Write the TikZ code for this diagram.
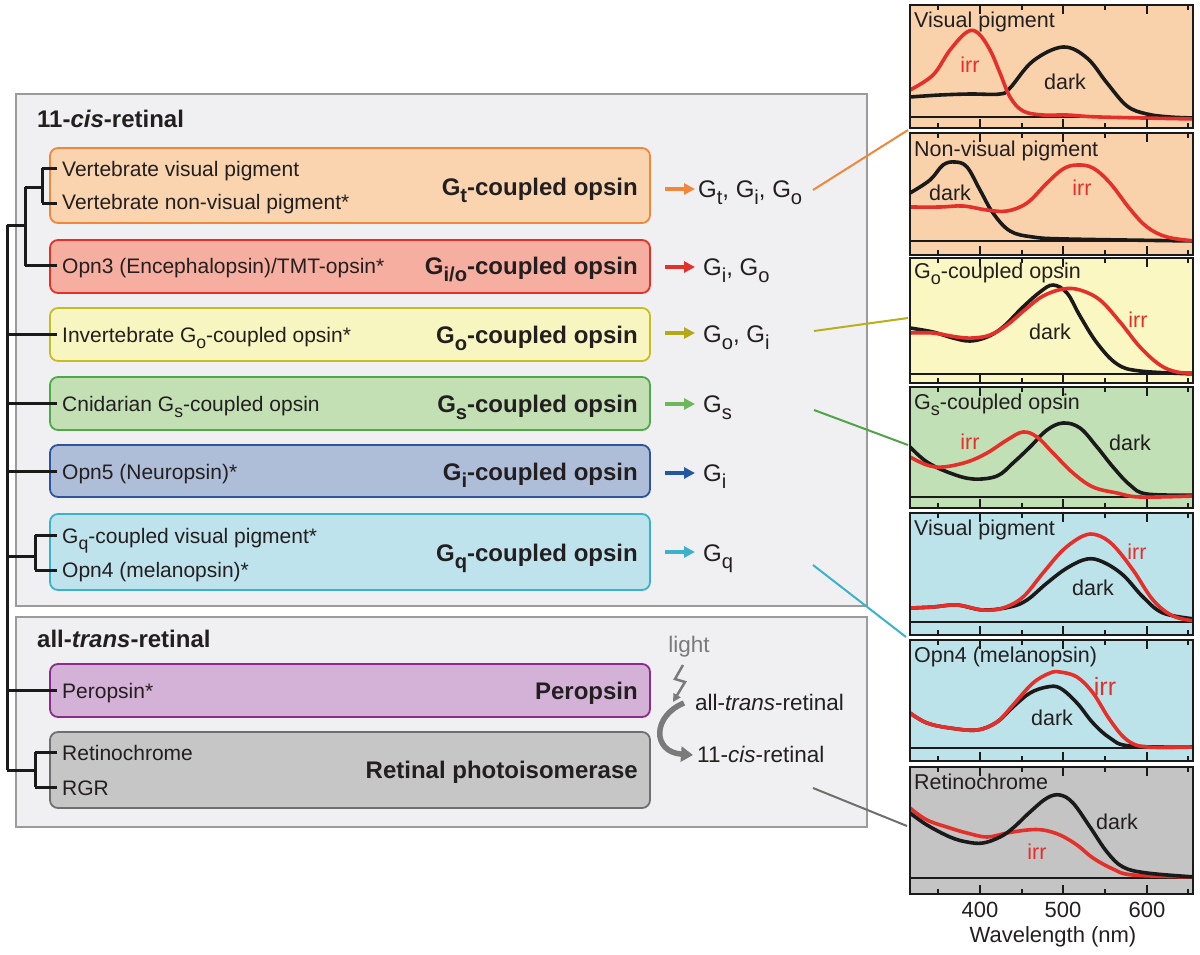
\documentclass[tikz,border=0pt]{standalone}
\usepackage{fontspec}
\setmainfont{Liberation Sans}
\usetikzlibrary{arrows.meta}
\newcommand\lsub[1]{\raisebox{-0.3em}{\scalebox{0.84}{#1}}}
\definecolor{txt}{HTML}{231F20}
\definecolor{outerfill}{HTML}{F0F0F2}
\definecolor{outerline}{HTML}{9B9B9B}
\definecolor{oFill}{HTML}{F9D4AF}\definecolor{oLine}{HTML}{F0873A}
\definecolor{rFill}{HTML}{F5AE9F}\definecolor{rLine}{HTML}{E5302A}
\definecolor{yFill}{HTML}{F8F6C0}\definecolor{yLine}{HTML}{C9BC22}
\definecolor{gFill}{HTML}{C3E0B5}\definecolor{gLine}{HTML}{4FA84A}
\definecolor{bFill}{HTML}{AFBED8}\definecolor{bLine}{HTML}{2C559E}
\definecolor{cFill}{HTML}{BEE3EC}\definecolor{cLine}{HTML}{3BB2CB}
\definecolor{pFill}{HTML}{D4B1D6}\definecolor{pLine}{HTML}{8B2C8A}
\definecolor{kFill}{HTML}{C6C6C6}\definecolor{kLine}{HTML}{6F6F6F}
\definecolor{aOlive}{HTML}{B5A815}\definecolor{aGreen}{HTML}{6CB75B}
\definecolor{aBlue}{HTML}{2457A2}
\definecolor{cOlive}{HTML}{B9AE1C}\definecolor{cGreen}{HTML}{4EA548}
\definecolor{ppO}{HTML}{F9D2AC}\definecolor{ppY}{HTML}{FAF7C3}
\definecolor{ppG}{HTML}{C2E0B6}\definecolor{ppC}{HTML}{BDE3EA}
\definecolor{ppK}{HTML}{C4C4C4}
\definecolor{cRed}{HTML}{E42F2A}\definecolor{cBlack}{HTML}{1A1A1A}
\definecolor{lightgray}{HTML}{7A7A7A}
\tikzset{
  reg/.style={font=\fontsize{21}{25}\selectfont, inner sep=0pt, anchor=base west, text=txt},
  side/.style={font=\fontsize{24}{28}\selectfont, inner sep=0pt, anchor=base west, text=txt},
  blab/.style={font=\fontsize{24}{28}\selectfont\bfseries, inner sep=0pt, anchor=base east, text=txt},
  ttl/.style={font=\fontsize{24}{28}\selectfont\bfseries, inner sep=0pt, anchor=base west, text=txt},
  ptitle/.style={font=\fontsize{21.5}{25}\selectfont, inner sep=0pt, anchor=base west, text=txt},
  clab/.style={font=\fontsize{21.5}{25}\selectfont, inner sep=0pt, text=txt},
  rlab/.style={font=\fontsize{21.5}{25}\selectfont, inner sep=0pt, text=cRed},
  obox/.style={rectangle, rounded corners=8pt, line width=1.8pt, inner sep=0pt, minimum width=600pt},
  outer/.style={rectangle, draw=outerline, fill=outerfill, line width=2pt, minimum width=851pt, inner sep=0pt},
  tree/.style={line width=3pt, draw=cBlack},
  sarrow/.style={line width=3.5pt, -{Triangle[length=11pt,width=11pt]}},
  link/.style={line width=2pt},
  curve/.style={line width=3.6pt, line join=round, line cap=round},
  pbox/.style={rectangle, inner sep=0pt, minimum width=283pt},
  pframe/.style={line width=2.5pt, draw=cBlack},
  ticklab/.style={font=\fontsize{22}{26}\selectfont, inner sep=0pt, text=txt},
}
\begin{document}
\begin{tikzpicture}[x=1pt, y=-1pt]
\useasboundingbox (0,0) rectangle (1200,954);
\fill[white] (0,0) rectangle (1200,954);

% ---------- outer boxes ----------
\node[outer, minimum height=512pt] (cisbox) at (441.5,350) {};
\node[outer, minimum height=210pt] (transbox) at (441.5,722) {};
\node[ttl] (tcis) at (37,127) {11-\textit{cis}-retinal};
\node[ttl] (ttrans) at (37,647) {all-\textit{trans}-retinal};

% ---------- coloured boxes ----------
\node[obox, fill=oFill, draw=oLine, minimum height=75pt] (bGt) at (350,185.5) {};
\node[obox, fill=rFill, draw=rLine, minimum height=53pt] (bGio) at (350,266.5) {};
\node[obox, fill=yFill, draw=yLine, minimum height=53pt] (bGo) at (350,334.5) {};
\node[obox, fill=gFill, draw=gLine, minimum height=53pt] (bGs) at (350,403.5) {};
\node[obox, fill=bFill, draw=bLine, minimum height=52pt] (bGi) at (350,471) {};
\node[obox, fill=cFill, draw=cLine, minimum height=76pt] (bGq) at (350,552) {};
\node[obox, fill=pFill, draw=pLine, minimum height=53pt] (bPer) at (350,690.5) {};
\node[obox, fill=kFill, draw=kLine, minimum height=76pt] (bRet) at (350,770) {};

% texts in boxes
\node[reg] (tVV) at (62,176) {Vertebrate visual pigment};
\node[reg] (tVN) at (62,209) {Vertebrate non-visual pigment*};
\node[blab] (lGt) at (638,195) {G\lsub{t}-coupled opsin};
\node[reg] (tOpn3) at (62,273) {Opn3 (Encephalopsin)/TMT-opsin*};
\node[blab] (lGio) at (638,274) {G\lsub{i/o}-coupled opsin};
\node[reg] (tInv) at (62,342) {Invertebrate G\lsub{o}-coupled opsin*};
\node[blab] (lGo) at (638,343) {G\lsub{o}-coupled opsin};
\node[reg] (tCni) at (62,411) {Cnidarian G\lsub{s}-coupled opsin};
\node[blab] (lGs) at (638,412) {G\lsub{s}-coupled opsin};
\node[reg] (tOpn5) at (62,479) {Opn5 (Neuropsin)*};
\node[blab] (lGi) at (638,480) {G\lsub{i}-coupled opsin};
\node[reg] (tGqv) at (62,543) {G\lsub{q}-coupled visual pigment*};
\node[reg] (tOpn4) at (62,577) {Opn4 (melanopsin)*};
\node[blab] (lGq) at (638,561) {G\lsub{q}-coupled opsin};
\node[reg] (tPer) at (62,698) {Peropsin*};
\node[blab] (lPer) at (638,699) {Peropsin};
\node[reg] (tRch) at (62,760) {Retinochrome};
\node[reg] (tRGR) at (62,795) {RGR};
\node[blab] (lRet) at (638,778) {Retinal photoisomerase};

% ---------- tree ----------
\coordinate (root1) at (7,225);
\coordinate (root2) at (7,770);
\coordinate (jA) at (25,225);
\coordinate (jB) at (42,187);
\coordinate (jC) at (35,556);
\coordinate (jD) at (35,770);
\draw[tree] (root1) -- (root2);
\draw[tree] (root1) -- (jA);
\draw[tree] (25,187) -- (25,265.5);
\draw[tree] (25,187) -- (jB);
\draw[tree] (42,168) -- (42,203);
\draw[tree] (42,168) -- (57,168);
\draw[tree] (42,203) -- (57,203);
\draw[tree] (25,265) -- (57,265);
\draw[tree] (7,334.5) -- (57,334.5);
\draw[tree] (7,403.5) -- (57,403.5);
\draw[tree] (7,471) -- (57,471);
\draw[tree] (7,556) -- (jC);
\draw[tree] (35,535) -- (35,570);
\draw[tree] (35,535) -- (57,535);
\draw[tree] (35,570) -- (57,570);
\draw[tree] (7,690.5) -- (57,690.5);
\draw[tree] (root2) -- (jD);
\draw[tree] (35,752) -- (35,787);
\draw[tree] (35,752) -- (57,752);
\draw[tree] (35,787) -- (57,787);

% ---------- G protein arrows and labels ----------
\node[side] (sGt) at (698,197) {G\lsub{t}, G\lsub{i}, G\lsub{o}};
\node[side] (sGio) at (703,275) {G\lsub{i}, G\lsub{o}};
\node[side] (sGo) at (703,342) {G\lsub{o}, G\lsub{i}};
\node[side] (sGs) at (703,412) {G\lsub{s}};
\node[side] (sGi) at (703,481) {G\lsub{i}};
\node[side] (sGq) at (703,561) {G\lsub{q}};
\draw[sarrow, oLine] (665,189) -- (695,189);
\draw[sarrow, rLine] (665,267) -- (695,267);
\draw[sarrow, aOlive] (665,333) -- (695,333);
\draw[sarrow, aGreen] (665,404) -- (695,404);
\draw[sarrow, aBlue] (665,473) -- (695,473);
\draw[sarrow, cLine] (665,552) -- (695,552);

% ---------- light / isomerisation ----------
\node[font=\fontsize{22.5}{26}\selectfont, text=lightgray, inner sep=0pt] (light) at (689,647) {light};
\draw[line width=2.5pt, lightgray, line join=miter, -{Triangle[length=8pt,width=8pt]}]
  (683,665) -- (675,679) -- (685,682) -- (673,702);
\node[font=\fontsize{22.5}{27}\selectfont, inner sep=0pt, anchor=base west, text=txt] (atr) at (695,710) {all-\textit{trans}-retinal};
\node[font=\fontsize{22.5}{27}\selectfont, inner sep=0pt, anchor=base west, text=txt] (cisr) at (697,762) {11-\textit{cis}-retinal};
\draw[line width=5.5pt, lightgray, -{Triangle[length=12pt,width=15pt]}]
  (684,703) .. controls (652,716) and (652,752) .. (693,755);

% ---------- spectra panels ----------
\node[pbox, fill=ppO, minimum height=123pt] (p1) at (1051.5,66.5) {};
\node[pbox, fill=ppO, minimum height=122pt] (p2) at (1051.5,194) {};
\node[pbox, fill=ppY, minimum height=125pt] (p3) at (1051.5,320.5) {};
\node[pbox, fill=ppG, minimum height=121pt] (p4) at (1051.5,447.5) {};
\node[pbox, fill=ppC, minimum height=122pt] (p5) at (1051.5,574) {};
\node[pbox, fill=ppC, minimum height=121pt] (p6) at (1051.5,700.5) {};
\node[pbox, fill=ppK, minimum height=127pt] (p7) at (1051.5,830.5) {};

\foreach \bl in {117,241,374,497,622,748,878}
  \draw[line width=1.6pt, cBlack] (910,\bl) -- (1193,\bl);

\begin{scope}
\clip (910,0) rectangle (1193,900);
% panel 1
\draw[curve, cBlack] plot[smooth, tension=0.6] coordinates {(910,97) (940,95) (970,94) (1000,94) (1010,88) (1033,61) (1063,47) (1087,58) (1107,83) (1127,106) (1147,114) (1170,117) (1195,118)};
\draw[curve, cRed] plot[smooth, tension=0.6] coordinates {(910,90) (933,75) (950,50) (967,32) (978,33) (990,50) (1000,73) (1010,97) (1023,111) (1043,115) (1067,115) (1100,117) (1195,119)};
% panel 2
\draw[curve, cBlack] plot[smooth, tension=0.6] coordinates {(910,193) (930,180) (943,165) (955,162) (967,167) (980,190) (993,213) (1010,231) (1033,237) (1067,239) (1195,241)};
\draw[curve, cRed] plot[smooth, tension=0.6] coordinates {(910,207) (940,207) (963,206) (987,210) (1007,211) (1027,203) (1047,183) (1063,169) (1077,165) (1093,168) (1110,183) (1130,209) (1147,227) (1167,237) (1195,241)};
% panel 3
\draw[curve, cBlack] plot[smooth, tension=0.6] coordinates {(910,328) (933,332) (953,338) (970,341) (987,337) (1003,327) (1023,307) (1040,292) (1053,285) (1067,293) (1080,316) (1097,343) (1117,364) (1140,371) (1195,374)};
\draw[curve, cRed] plot[smooth, tension=0.6] coordinates {(910,333) (933,333) (957,337) (973,338) (990,335) (1007,325) (1027,308) (1043,296) (1063,289) (1080,290) (1100,300) (1120,322) (1140,347) (1160,365) (1177,372) (1195,373)};
% panel 4
\draw[curve, cBlack] plot[smooth, tension=0.6] coordinates {(910,447) (927,462) (950,473) (973,479) (997,476) (1013,463) (1030,447) (1047,430) (1063,423) (1080,428) (1097,447) (1113,467) (1130,485) (1147,494) (1195,495)};
\draw[curve, cRed] plot[smooth, tension=0.6] coordinates {(910,457) (927,465) (943,467) (967,462) (987,453) (1007,440) (1023,432) (1037,437) (1053,453) (1073,473) (1093,487) (1117,493) (1140,497) (1195,496)};
% panel 5
\draw[curve, cBlack] plot[smooth, tension=0.6] coordinates {(910,608) (933,607) (957,605) (983,610) (1010,607) (1027,600) (1047,583) (1067,568) (1087,559) (1103,562) (1123,575) (1143,597) (1163,613) (1195,619)};
\draw[curve, cRed] plot[smooth, tension=0.6] coordinates {(910,608) (933,607) (957,605) (983,610) (1003,608) (1023,597) (1043,573) (1063,550) (1083,536) (1097,535) (1113,545) (1133,570) (1153,600) (1173,616) (1195,621)};
% panel 6
\draw[curve, cBlack] plot[smooth, tension=0.6] coordinates {(910,713) (927,723) (950,728) (977,730) (997,722) (1013,707) (1030,693) (1047,687) (1060,688) (1077,703) (1093,723) (1110,738) (1130,746) (1195,747)};
\draw[curve, cRed] plot[smooth, tension=0.6] coordinates {(910,713) (927,723) (950,728) (977,730) (997,722) (1013,705) (1033,683) (1050,673) (1060,672) (1077,677) (1093,693) (1110,720) (1127,740) (1147,747) (1195,747)};
% panel 7
\draw[curve, cRed] plot[smooth, tension=0.6] coordinates {(910,808) (927,820) (950,828) (967,833) (987,837) (1007,833) (1027,830) (1043,830) (1060,835) (1077,845) (1093,858) (1113,869) (1133,875) (1195,877)};
\draw[curve, cBlack] plot[smooth, tension=0.6] coordinates {(910,813) (927,825) (950,837) (967,842) (983,843) (1000,837) (1013,828) (1030,812) (1047,798) (1060,795) (1073,803) (1090,827) (1107,852) (1123,867) (1147,873) (1195,877)};
\end{scope}

% frames and ticks
\foreach \p in {p1,p2,p3,p4,p5,p6,p7} {
  \draw[pframe] (\p.north west) rectangle (\p.south east);
  \foreach \x in {938,1022,1105,1188} {
    \draw[line width=2pt, cBlack] (\p.north west -| \x,0) -- ++(0,5);
    \draw[line width=2pt, cBlack] (\p.south west -| \x,0) -- ++(0,-5);
  }
  \foreach \x in {980,1063,1147} {
    \draw[line width=2pt, cBlack] (\p.north west -| \x,0) -- ++(0,9);
    \draw[line width=2pt, cBlack] (\p.south west -| \x,0) -- ++(0,-9);
  }
}

% panel titles
\node[ptitle] (pt1) at (914,27) {Visual pigment};
\node[ptitle] (pt2) at (914,156) {Non-visual pigment};
\node[ptitle] (pt3) at (914,278) {G\lsub{o}-coupled opsin};
\node[ptitle] (pt4) at (914,409) {G\lsub{s}-coupled opsin};
\node[ptitle] (pt5) at (914,535) {Visual pigment};
\node[ptitle] (pt6) at (914,662) {Opn4 (melanopsin)};
\node[ptitle] (pt7) at (914,789) {Retinochrome};

% curve labels
\node[rlab] (i1) at (970,65) {irr};
\node[clab] (d1) at (1065,82) {dark};
\node[clab] (d2) at (950,193) {dark};
\node[rlab] (i2) at (1082,188) {irr};
\node[clab] (d3) at (1050,332) {dark};
\node[rlab] (i3) at (1138,320) {irr};
\node[rlab] (i4) at (970,442) {irr};
\node[clab] (d4) at (1130,443) {dark};
\node[rlab] (i5) at (1137,552) {irr};
\node[clab] (d5) at (1093,588) {dark};
\node[rlab, font=\fontsize{25}{29}\selectfont] (i6) at (1105,686) {irr};
\node[clab] (d6) at (1052,718) {dark};
\node[clab] (d7) at (1117,822) {dark};
\node[rlab] (i7) at (1037,852) {irr};

% axis
\node[ticklab] (x400) at (980,910) {400};
\node[ticklab] (x500) at (1063,910) {500};
\node[ticklab] (x600) at (1147,910) {600};
\node[ticklab] (xlab) at (1053,937) {Wavelength (nm)};

% ---------- links from boxes to spectra ----------
\coordinate (kO1) at (813,190); \coordinate (kO2) at (908,130);
\coordinate (kY1) at (814,331); \coordinate (kY2) at (908,318);
\coordinate (kG1) at (814,410); \coordinate (kG2) at (908,445);
\coordinate (kC1) at (813,565); \coordinate (kC2) at (906,637);
\coordinate (kK1) at (813,788); \coordinate (kK2) at (907,826);
\draw[link, oLine] (kO1) -- (kO2);
\draw[link, cOlive] (kY1) -- (kY2);
\draw[link, cGreen] (kG1) -- (kG2);
\draw[link, cLine] (kC1) -- (kC2);
\draw[link, kLine] (kK1) -- (kK2);
\end{tikzpicture}
\end{document}
